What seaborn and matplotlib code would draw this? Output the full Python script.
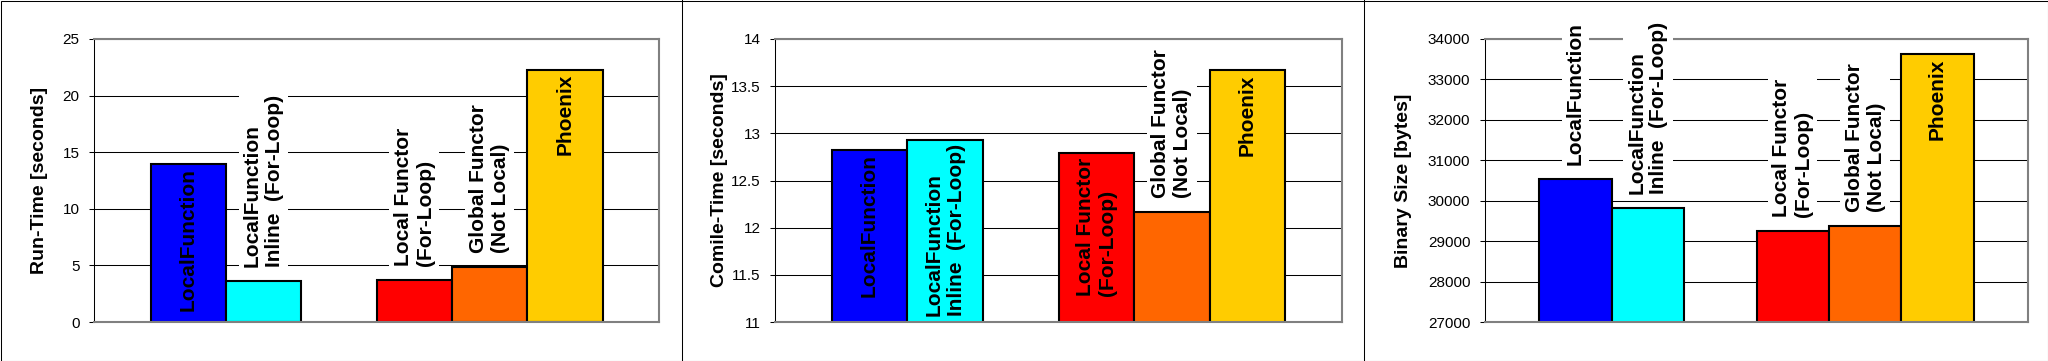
import pandas as pd
import seaborn as sns
import matplotlib.pyplot as plt
from matplotlib.lines import Line2D
from matplotlib.ticker import MultipleLocator, StrMethodFormatter

plt.rcParams["font.family"] = ["Liberation Sans", "DejaVu Sans"]

# data
labels = ["LocalFunction", "LocalFunction\nInline  (For-Loop)", "Local Functor\n(For-Loop)",
          "Global Functor\n(Not Local)", "Phoenix"]
colors = ["#0000FF", "#00FFFF", "#FF0000", "#FF6600", "#FFCC00"]
run_time = [14.0, 3.6, 3.7, 4.9, 22.3]
compile_time = [12.82, 12.93, 12.79, 12.17, 13.67]
binary_size = [30545, 29826, 29256, 29372, 33620]

# empty slot between the two groups
order = labels[:2] + [" "] + labels[2:]

W, H = 2048, 361
fig = plt.figure(figsize=(W / 100, H / 100), dpi=100)

panels = [
    (run_time, "Run-Time [seconds]", (0, 25), 5, (94, 659), -0.081),
    (compile_time, "Comile-Time [seconds]", (11, 14), 0.5, (775, 1342), -0.083),
    (binary_size, "Binary Size [bytes]", (27000, 34000), 1000, (1485, 2028), -0.134),
]

for vals, ylabel, (y0, y1), step, (left, right), lab_x in panels:
    ax = fig.add_axes([left / W, (H - 322) / H, (right - left) / W, 283 / H])
    df = pd.DataFrame({"label": labels, "value": vals})
    sns.barplot(data=df, x="label", y="value", hue="label", order=order,
                palette=dict(zip(labels, colors)), saturation=1, width=1,
                edgecolor="black", linewidth=1.5, legend=False, ax=ax)
    ax.set_xlim(-1.25, len(order) - 0.5 + 0.75)
    ax.set_ylim(y0, y1)
    ax.yaxis.set_major_locator(MultipleLocator(step))
    ax.yaxis.set_major_formatter(StrMethodFormatter("{x:g}"))
    ax.set_xticks([])
    ax.set_xlabel("")
    ax.set_ylabel(ylabel, fontsize=14, fontweight="bold")
    ax.yaxis.set_label_coords(lab_x, 0.5)
    ax.tick_params(axis="y", length=3.5, width=0.75, pad=7, labelsize=11)
    ax.grid(axis="y", color="black", linewidth=0.75)
    ax.set_axisbelow(True)
    for s in ["top", "right", "bottom"]:
        ax.spines[s].set_color("#808080")
        ax.spines[s].set_linewidth(1.5)
    ax.spines["left"].set_linewidth(0.75)

    # labels go inside the bar when they fit, otherwise above it on white
    fig.canvas.draw()
    r = fig.canvas.get_renderer()
    for lab, v in zip(labels, vals):
        x = order.index(lab)
        t = ax.annotate(lab, (x, v), xytext=(0, -3), textcoords="offset points",
                        rotation=90, ha="center", va="top", fontsize=15,
                        fontweight="bold", multialignment="left", zorder=5)
        h_text = t.get_window_extent(r).height
        h_bar = ax.transData.transform((x, v))[1] - ax.transData.transform((x, y0))[1]
        if h_text + 5 > h_bar:
            t.xyann = (0, 10)
            t.set_va("bottom")
            t.set_bbox(dict(facecolor="white", edgecolor="none", boxstyle="square,pad=0.2"))

# panel frames
fig.add_artist(plt.Rectangle((0.5 / W, 0.5 / H), 2047 / W, 360 / H, transform=fig.transFigure,
                             fill=False, edgecolor="black", linewidth=0.75))
for xb in (681.5, 1363.5):
    fig.add_artist(Line2D([xb / W, xb / W], [0, 1], color="black", linewidth=0.75))

fig.savefig("out.png", dpi=100)
